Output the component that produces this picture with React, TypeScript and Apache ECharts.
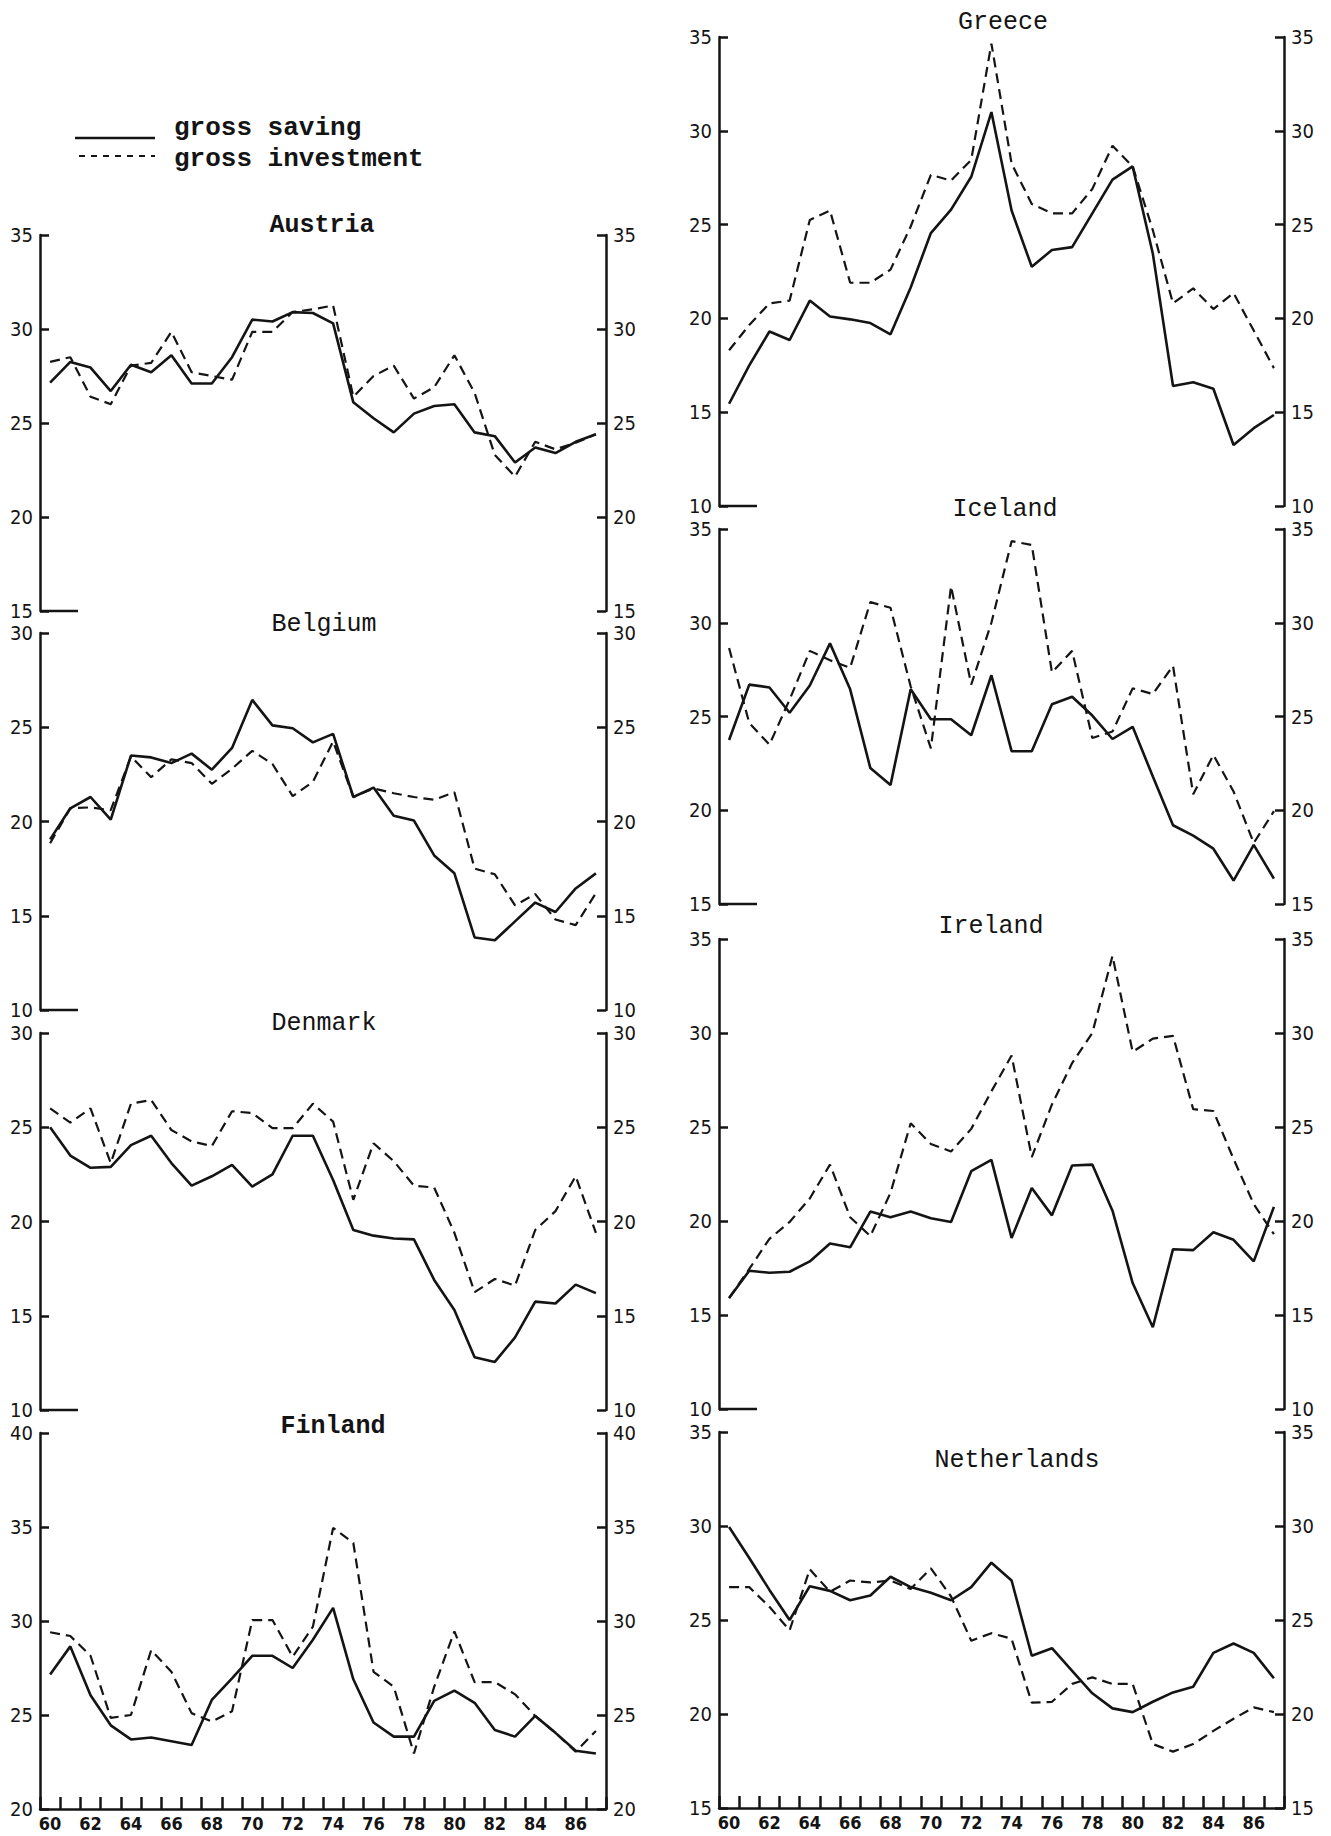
import React, { useEffect, useRef } from "react";
import * as echarts from "echarts";

const years = ["60","61","62","63","64","65","66","67","68","69","70","71","72","73","74","75","76","77","78","79","80","81","82","83","84","85","86","87"];

const austriaSaving = [27.15,28.25,27.95,26.7,28.1,27.7,28.6,27.1,27.1,28.5,30.5,30.4,30.9,30.85,30.3,26.1,25.25,24.5,25.5,25.9,26.0,24.5,24.3,22.9,23.7,23.4,24.0,24.4];
const austriaInvestment = [28.25,28.5,26.4,26.0,28.05,28.2,29.85,27.7,27.5,27.3,29.85,29.85,30.9,31.05,31.25,26.4,27.5,28.05,26.3,26.9,28.6,26.6,23.3,22.15,24.0,23.6,23.95,24.4];

const belgiumSaving = [19.05,20.7,21.3,20.1,23.5,23.4,23.1,23.6,22.75,23.9,26.45,25.1,24.95,24.2,24.65,21.3,21.8,20.3,20.05,18.2,17.25,13.85,13.7,14.7,15.7,15.2,16.45,17.25];
const belgiumInvestment = [18.85,20.7,20.75,20.6,23.45,22.35,23.3,23.1,22.0,22.8,23.75,23.05,21.35,22.1,24.25,21.3,21.75,21.5,21.3,21.15,21.55,17.5,17.2,15.55,16.15,14.8,14.5,16.2];

const denmarkSaving = [25.0,23.5,22.85,22.9,24.05,24.55,23.1,21.9,22.4,23.0,21.85,22.5,24.55,24.55,22.2,19.55,19.25,19.1,19.05,16.9,15.3,12.8,12.55,13.85,15.75,15.65,16.65,16.2];
const denmarkInvestment = [26.0,25.25,26.0,23.1,26.25,26.45,24.85,24.25,24.0,25.85,25.75,24.95,24.95,26.25,25.3,21.15,24.15,23.2,21.9,21.8,19.4,16.25,16.95,16.6,19.55,20.55,22.4,19.4];

const finlandSaving = [27.15,28.65,26.05,24.45,23.7,23.8,23.6,23.4,25.8,26.95,28.15,28.15,27.5,29.0,30.7,26.9,24.6,23.85,23.85,25.75,26.3,25.65,24.2,23.85,24.95,24.05,23.1,22.95];
const finlandInvestment = [29.4,29.2,28.15,24.85,25.0,28.45,27.3,25.1,24.65,25.2,30.05,30.05,28.1,29.7,34.95,34.15,27.3,26.5,22.95,26.5,29.45,26.75,26.75,26.1,24.95,24.05,23.05,24.15];

const greeceSaving = [15.45,17.5,19.3,18.85,20.95,20.1,19.95,19.75,19.15,21.65,24.55,25.8,27.55,31.0,25.75,22.75,23.65,23.8,25.6,27.4,28.1,23.45,16.4,16.6,16.25,13.25,14.15,14.85];
const greeceInvestment = [18.3,19.65,20.8,20.95,25.25,25.75,21.9,21.9,22.6,24.9,27.65,27.35,28.45,34.65,28.25,26.1,25.6,25.6,26.9,29.2,28.1,24.7,20.8,21.6,20.5,21.35,19.35,17.35];

const icelandSaving = [23.75,26.7,26.55,25.2,26.65,28.9,26.45,22.25,21.35,26.45,24.85,24.85,24.0,27.2,23.15,23.15,25.65,26.05,25.05,23.8,24.45,21.8,19.2,18.65,17.95,16.25,18.15,16.35];
const icelandInvestment = [28.65,24.65,23.5,25.9,28.5,28.0,27.6,31.1,30.8,26.6,23.3,31.95,26.7,30.0,34.35,34.15,27.35,28.5,23.85,24.2,26.5,26.2,27.7,20.85,22.95,21.0,18.25,19.95];

const irelandSaving = [15.9,17.35,17.25,17.3,17.85,18.8,18.6,20.5,20.2,20.5,20.15,19.95,22.65,23.25,19.1,21.75,20.3,22.95,23.0,20.55,16.7,14.35,18.5,18.45,19.4,19.0,17.85,20.75];
const irelandInvestment = [15.9,17.45,19.05,19.95,21.2,23.0,20.2,19.2,21.5,25.2,24.1,23.7,24.9,26.9,28.8,23.4,26.2,28.4,30.0,34.1,29.0,29.7,29.85,25.95,25.85,23.3,20.9,19.3];

const netherlandsSaving = [29.95,28.3,26.6,25.0,26.8,26.55,26.05,26.3,27.3,26.75,26.45,26.05,26.75,28.05,27.1,23.1,23.5,22.3,21.1,20.3,20.1,20.65,21.15,21.45,23.25,23.75,23.25,21.9];
const netherlandsInvestment = [26.75,26.75,25.7,24.45,27.7,26.5,27.1,27.0,27.1,26.65,27.75,26.25,23.9,24.3,24.0,20.6,20.65,21.6,21.95,21.6,21.6,18.4,18.0,18.4,19.1,19.75,20.35,20.1];

const countries = ["Austria","Belgium","Denmark","Finland","Greece","Iceland","Ireland","Netherlands"];
const savingSeries = [austriaSaving,belgiumSaving,denmarkSaving,finlandSaving,greeceSaving,icelandSaving,irelandSaving,netherlandsSaving];
const investmentSeries = [austriaInvestment,belgiumInvestment,denmarkInvestment,finlandInvestment,greeceInvestment,icelandInvestment,irelandInvestment,netherlandsInvestment];
const axisMin = [15,10,10,20,10,15,10,15];
const axisMax = [35,30,30,40,35,35,35,35];
const legendLabels = ["gross saving","gross investment"];

// layout (pixels)
const layout = [
  { left: 40, top: 235, width: 566, height: 376, bottom: false, tx: 322, ty: 225, bold: true },
  { left: 40, top: 633, width: 566, height: 377, bottom: false, tx: 324, ty: 624, bold: false },
  { left: 40, top: 1033, width: 566, height: 377, bottom: false, tx: 324, ty: 1023, bold: false },
  { left: 40, top: 1433, width: 566, height: 376, bottom: true, tx: 333, ty: 1426, bold: true },
  { left: 719, top: 37, width: 565, height: 469, bottom: false, tx: 1003, ty: 22, bold: false },
  { left: 719, top: 529, width: 565, height: 375, bottom: false, tx: 1005, ty: 509, bold: false },
  { left: 719, top: 939, width: 565, height: 470, bottom: false, tx: 991, ty: 926, bold: false },
  { left: 719, top: 1432, width: 565, height: 376, bottom: true, tx: 1017, ty: 1460, bold: false },
];

const INK = "#141414";
const MONO = "'Liberation Mono', 'DejaVu Sans Mono', 'Courier New', monospace";
const NUM = "'Liberation Sans Narrow', 'DejaVu Sans Condensed', 'Roboto Condensed', 'Liberation Sans', sans-serif";

export default function App() {
  const ref = useRef<HTMLDivElement>(null);
  useEffect(() => {
    if (!ref.current) return;
    const chart = echarts.init(ref.current, undefined, { renderer: "svg" });
    const grid: any[] = [];
    const xAxis: any[] = [];
    const yAxis: any[] = [];
    const series: any[] = [];
    const graphic: any[] = [];
    const axisLineStyle = { color: INK, width: 2.5 };
    const yLabel = { color: INK, fontSize: 20, fontFamily: NUM, margin: 7, padding: [0, 0, 10, 0] };
    countries.forEach((name, i) => {
      const L = layout[i];
      grid.push({ left: L.left, top: L.top, width: L.width, height: L.height });
      xAxis.push({
        type: "category", gridIndex: i, data: years, boundaryGap: true, show: L.bottom,
        axisLine: { show: true, onZero: false, lineStyle: axisLineStyle },
        axisTick: { show: true, inside: true, length: 12, interval: 0, lineStyle: axisLineStyle },
        axisLabel: { interval: 1, color: INK, fontSize: 18, lineHeight: 18, fontWeight: "bold", fontFamily: NUM, margin: 5 },
        splitLine: { show: false },
      });
      ["left", "right"].forEach((pos) => {
        yAxis.push({
          type: "value", gridIndex: i, position: pos, min: axisMin[i], max: axisMax[i], interval: 5,
          axisLine: { show: true, lineStyle: axisLineStyle },
          axisTick: { show: true, inside: true, length: 9, lineStyle: axisLineStyle },
          splitLine: { show: false },
          axisLabel: yLabel,
        });
      });
      series.push({
        name: legendLabels[0], type: "line", xAxisIndex: i, yAxisIndex: 2 * i, data: savingSeries[i],
        symbol: "none", lineStyle: { color: INK, width: 2.6 }, z: 3,
      });
      series.push({
        name: legendLabels[1], type: "line", xAxisIndex: i, yAxisIndex: 2 * i, data: investmentSeries[i],
        symbol: "none", lineStyle: { color: INK, width: 2.2, type: [10, 6] }, z: 2,
      });
      graphic.push({
        type: "text", x: L.tx, y: L.ty,
        style: { text: name, fill: INK, font: `${L.bold ? "bold " : ""}25px ${MONO}`, textAlign: "center", textVerticalAlign: "middle" },
      });
      if (!L.bottom) {
        graphic.push({
          type: "line", shape: { x1: L.left, y1: L.top + L.height, x2: L.left + 38, y2: L.top + L.height },
          style: { stroke: INK, lineWidth: 2.5 },
        });
      }
    });
    // legend
    graphic.push({ type: "line", shape: { x1: 75, y1: 138, x2: 155, y2: 138 }, style: { stroke: INK, lineWidth: 2.6 } });
    graphic.push({ type: "line", shape: { x1: 79, y1: 156, x2: 155, y2: 156 }, style: { stroke: INK, lineWidth: 2, lineDash: [6, 6] } });
    graphic.push({ type: "text", x: 174, y: 128, style: { text: legendLabels[0], fill: INK, font: `bold 26px ${MONO}`, textVerticalAlign: "middle" } });
    graphic.push({ type: "text", x: 174, y: 159, style: { text: legendLabels[1], fill: INK, font: `bold 26px ${MONO}`, textVerticalAlign: "middle" } });

    chart.setOption({
      animation: false,
      backgroundColor: "#ffffff",
      grid, xAxis, yAxis, series, graphic,
    });
    return () => chart.dispose();
  }, []);
  return <div ref={ref} style={{ position: "absolute", left: 0, top: 0, width: 1331, height: 1836 }} />;
}
